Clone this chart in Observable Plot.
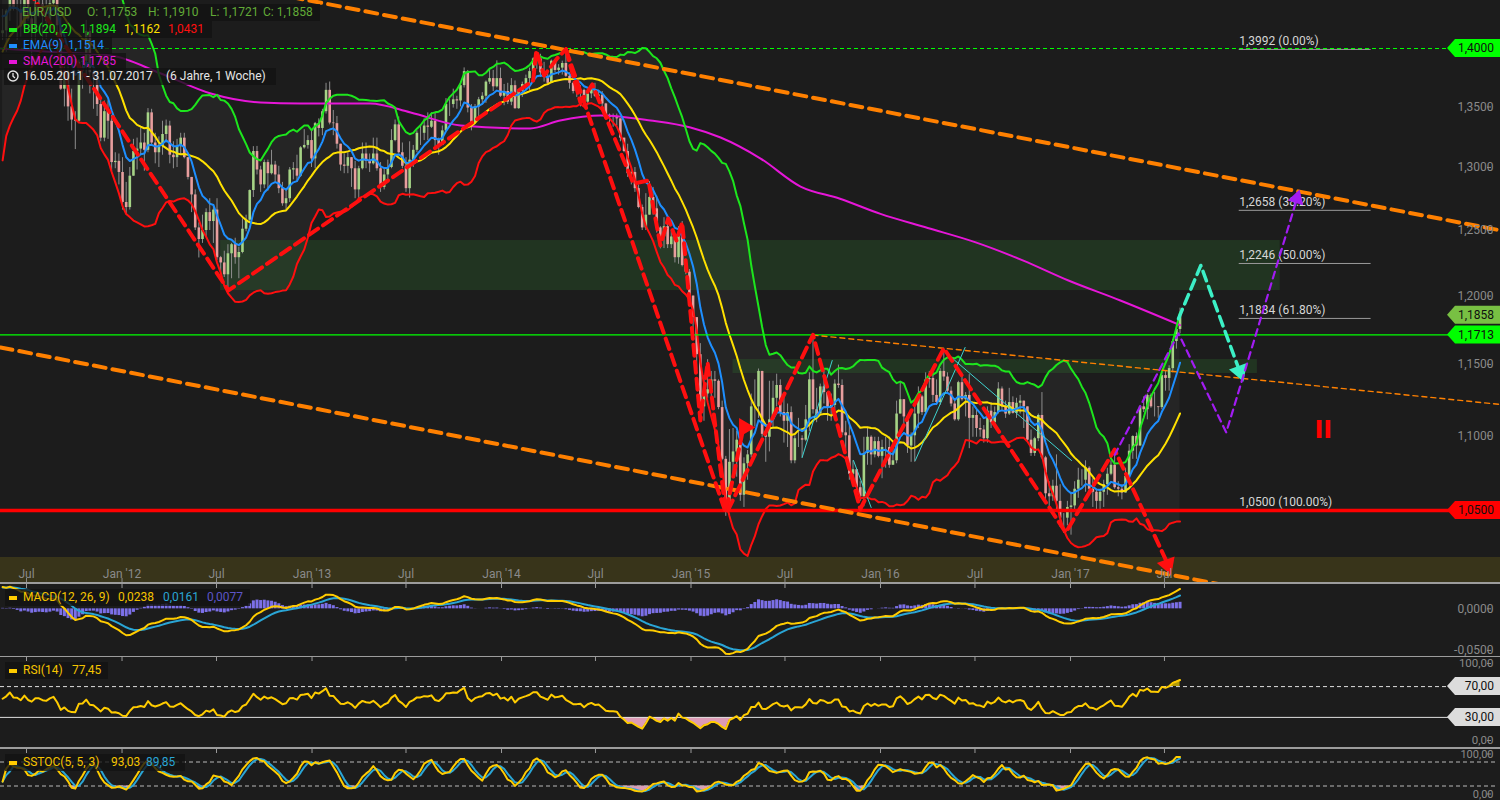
<!DOCTYPE html>
<html>
<head>
<meta charset="utf-8">
<script src="https://cdn.jsdelivr.net/npm/d3@7"></script>
<script src="https://cdn.jsdelivr.net/npm/@observablehq/plot@0.6"></script>
<style>
html,body{margin:0;padding:0;background:#1c1c1c;}
#chart{position:relative;width:1500px;height:800px;overflow:hidden;background:#1c1c1c;font-family:Roboto,"DejaVu Sans",sans-serif;}
.panel{position:absolute;left:0;width:1500px;overflow:hidden;}
.panel.sub{overflow:visible;}
.panel svg{display:block;}
#band{position:absolute;left:0;top:557px;width:1500px;height:25px;background:#38341a;}
.sep{position:absolute;left:0;width:1500px;background:#9c9c9c;z-index:5;}
.box{position:absolute;background:rgba(18,18,18,0.78);z-index:6;}
.lt{position:absolute;font-size:12px;line-height:16px;white-space:pre;z-index:7;}
.mk{position:absolute;width:8px;height:4px;z-index:7;}
</style>
</head>
<body>
<div id="chart">
  <div id="band"></div>
  <div class="panel" id="mainP" style="top:0;height:582px"></div>
  <div class="sep" style="top:582px;height:2px"></div>
  <div class="panel sub" id="macdP" style="top:584px;height:72px"></div>
  <div class="sep" style="top:655.5px;height:1.5px"></div>
  <div class="panel sub" id="rsiP" style="top:657px;height:90px"></div>
  <div class="sep" style="top:747px;height:1.5px"></div>
  <div class="panel sub" id="stocP" style="top:748.5px;height:51.5px"></div>
  <div id="legends"></div>
</div>
<script>
// ---------------- DATA ----------------
// weekly EUR/USD candles, first week starting Monday 16.05.2011, values in pips (x 1/10000)
const firstWeek = "2011-05-16";
// closes before the visible range, only used to seed the indicators (Mar 2010 - 9 May 2011)
const priorCloses = [13620,13760,13530,13390,13480,13360,13500,13380,13300,12760,12360,12570,12270,11960,12110,12390,12350,12560,12640,12940,12880,13030,13280,12750,12710,12750,12890,12720,13050,13490,13790,13970,13970,13950,13940,14030,13690,13680,13240,13410,13220,13230,13100,13380,12910,13380,13610,13690,13580,13500,13700,13750,13980,13910,14020,14090,14230,14480,14430,14570,14820,14530,14130];
const closes = [
14155,14330,14640,14345,14340,14190,14530,14260,14150,14390,14390,14280,14240,14395,14490,14200,13650,13790,13500,13390,13380,13880,13890,14150,13790,13750,13520,13240,13460,13380,13040,13050,12960,
12720,12680,12930,13130,13150,13200,13140,13450,13200,13120,13180,13270,13340,13100,13080,13170,13240,13080,12920,12780,12520,12430,12500,12640,12570,12660,12290,12250,12160,12320,12390,12290,12330,12510,12580,12815,13130,12980,12860,13040,12950,13020,12940,12830,12710,12750,12980,12990,12930,13160,13180,13220,13070,
13360,13320,13460,13640,13365,13360,13190,13020,13010,13080,12990,12820,12990,13110,13050,13030,13110,12990,12840,12940,13000,13220,13350,13120,13010,12830,13060,13140,13280,13280,13340,13330,13380,13220,13180,13300,13520,13520,13560,13550,13680,13800,13490,13370,13500,13560,13590,13710,13740,13670,13740,13590,
13630,13540,13680,13485,13630,13690,13740,13800,13910,13910,13790,13750,13700,13890,13810,13830,13870,13760,13700,13630,13630,13640,13540,13610,13645,13590,13600,13525,13430,13410,13410,13400,13240,13130,12950,12960,12830,12680,12520,12620,12760,12670,12520,12450,12530,12390,12450,12290,12470,12230,12180,12000,
11840,11570,11200,11290,11320,11390,11380,11195,10840,10495,10820,10890,10970,10600,10810,10870,11200,11200,11450,11010,10990,11110,11260,11350,11160,11100,11160,10830,10980,10980,10970,11110,11390,11180,11150,11340,11300,11190,11210,11360,11350,11020,11000,10740,10770,10650,10590,10880,10990,10870,10960,10860,
10920,10920,10800,10830,11150,11250,11130,10930,11000,11150,11270,11160,11390,11400,11280,11230,11450,11410,11310,11220,11110,11370,11250,11280,11120,11140,11050,11040,10980,11170,11090,11160,11325,11200,11150,11230,11155,11225,11240,11200,10970,10880,10980,11140,10850,10610,10590,10660,10560,10450,10450,10520,
10530,10640,10700,10700,10780,10640,10620,10560,10620,10670,10740,10800,10650,10640,10615,10725,10895,10995,10930,11200,11180,11280,11200,11200,11195,11420,11400,11470,11665,11753,11858];
const highs = [
14345,14345,14655,14700,14440,14450,14560,14580,14280,14440,14540,14450,14460,14480,14520,14548,14270,13840,13840,13650,13460,13900,13920,14247,14180,13850,13790,13560,13550,13550,13430,13120,13110,
13080,12880,13000,13230,13240,13320,13280,13486,13480,13280,13250,13380,13390,13380,13210,13230,13280,13280,13080,12900,12820,12560,12620,12670,12750,12692,12750,12300,12340,12390,12400,12440,12370,12590,12620,12820,13170,13172,13010,13060,13060,13140,13050,13010,12880,12830,13000,13040,13100,13170,13310,13260,13300,
13370,13400,13480,13700,13711,13470,13420,13180,13110,13120,13080,13050,13010,13200,13200,13110,13240,13240,13040,13000,13060,13310,13390,13416,13200,13080,13210,13180,13300,13350,13400,13450,13450,13450,13240,13340,13570,13560,13650,13590,13700,13832,13810,13520,13520,13580,13620,13720,13810,13810,13893,13830,
13690,13700,13740,13720,13640,13710,13770,13830,13920,13966,13950,13880,13810,13900,13900,13860,13890,13993,13790,13710,13660,13680,13650,13640,13680,13700,13640,13630,13530,13440,13440,13440,13400,13240,13190,12990,13000,12860,12700,12790,12887,12840,12770,12530,12600,12600,12500,12460,12530,12570,12250,12200,
11980,11840,11650,11420,11534,11450,11450,11390,11240,10860,11043,11050,11030,11000,10850,10900,11290,11390,11467,11450,11010,11380,11380,11430,11390,11280,11220,11200,11000,11120,11000,11210,11440,11714,11330,11360,11460,11300,11290,11390,11495,11390,11100,11070,10830,10760,10690,10990,11050,11000,10990,10990,
10970,10990,10990,10950,11240,11376,11250,11130,11020,11220,11340,11280,11440,11450,11460,11390,11470,11616,11440,11340,11250,11380,11420,11300,11427,11200,11180,11120,11070,11200,11230,11200,11370,11340,11240,11330,11270,11260,11280,11240,11200,11040,10990,11150,11300,10860,10690,10700,10870,10670,10480,10560,
10620,10690,10780,10770,10830,10790,10710,10640,10640,10700,10780,10830,10906,10690,10670,10780,10940,11000,11020,11210,11270,11290,11290,11300,11200,11450,11450,11490,11680,11780,11910];
const lows = [
14070,13968,14240,14330,14070,14100,14140,14240,13837,14050,14270,14050,14080,14200,14340,14150,13640,13500,13380,13300,13146,13360,13650,13730,13610,13480,13420,13210,13210,13230,12950,12990,12860,
12660,12624,12660,12930,12980,13100,12970,13120,13180,13030,13000,13100,13200,13030,12990,13000,13100,13070,12900,12640,12500,12288,12400,12450,12500,12400,12270,12160,12140,12042,12130,12240,12130,12320,12490,12560,12760,12940,12800,12830,12810,12940,12880,12790,12690,12660,12720,12900,12880,12920,13150,13150,13000,
12990,13250,13260,13440,13350,13260,13150,12970,12950,12950,12840,12750,12745,12980,12990,12960,13020,12970,12800,12820,12880,12990,13210,13110,12990,12800,12755,13000,13120,13180,13220,13220,13320,13170,13100,13200,13290,13420,13490,13480,13500,13660,13450,13300,13360,13400,13530,13530,13690,13630,13660,13580,
13510,13520,13510,13480,13480,13580,13640,13640,13740,13820,13750,13710,13680,13710,13790,13770,13770,13750,13650,13610,13580,13500,13520,13510,13570,13580,13570,13490,13420,13360,13330,13340,13210,13120,12920,12860,12800,12670,12500,12500,12620,12620,12480,12358,12360,12360,12360,12250,12240,12220,12160,11980,
11750,11460,11098,11100,11260,11270,11260,11180,10830,10462,10500,10710,10720,10560,10520,10700,10850,11060,11120,10990,10820,10890,11050,11200,11130,10950,10920,10810,10810,10920,10850,10960,11030,11150,11090,11150,11220,11100,11100,11170,11330,11000,10900,10700,10670,10630,10560,10524,10800,10800,10850,10850,
10710,10780,10780,10810,10810,11150,11070,10880,10820,10820,11050,11140,11140,11330,11230,11210,11210,11380,11300,11200,11100,11100,11240,11130,10912,10990,10990,10990,10950,10950,11050,11050,11150,11170,11120,11140,11150,11120,11150,11050,10960,10860,10860,10960,10840,10570,10520,10560,10500,10390,10352,10400,
10340,10500,10580,10660,10620,10620,10520,10490,10500,10520,10600,10730,10640,10590,10570,10640,10820,10840,10840,10930,11160,11110,11190,11130,11120,11180,11310,11310,11440,11610,11721];

// SMA(200)
const sma200Dates = ["2011-05-12","2011-09-04","2011-12-10","2012-03-16","2012-06-20","2012-09-24","2012-12-10","2013-04-23","2013-07-10","2013-10-14","2014-02-25","2014-04-24","2014-07-11","2014-10-15","2014-12-31","2015-02-27","2015-05-15","2015-07-31","2015-10-15","2016-01-01","2016-04-01","2016-07-01","2016-10-01","2016-12-28","2017-04-07","2017-07-31"];
const sma200Values = [1.400,1.3965,1.3939,1.3784,1.3613,1.3537,1.3529,1.3529,1.3453,1.3345,1.3320,1.3386,1.3428,1.3386,1.3328,1.3245,1.3073,1.2847,1.2750,1.2630,1.2520,1.2410,1.2270,1.2117,1.1967,1.1785];

// x axis ticks
const xTickDates = ["2011-07-01","2012-01-01","2012-07-01","2013-01-01","2013-07-01","2014-01-01","2014-07-01","2015-01-01","2015-07-01","2016-01-01","2016-07-01","2017-01-01","2017-07-01"];
const priceTicks = [1.10,1.15,1.20,1.25,1.30,1.35];
const macdTicks = [0,-0.05];
const oscTicks = [0,100];

// horizontal levels
const greenDashedLevel = [1.40];
const greenLevel = [1.1713];
const redLevel = [1.05];
const priceTagValues = [1.40,1.1858,1.1713,1.05];
const priceTagColors = ["#00ff00","#78c043","#00ff00","#ff0000"];
const rsiLevels = [70,30];
const stocLevels = [80,20];

// Fibonacci retracement
const fibLevels = [1.3992,1.2658,1.2246,1.1834,1.05];
const fibLabels = ["1,3992 (0.00%)","1,2658 (38.20%)","1,2246 (50.00%)","1,1834 (61.80%)","1,0500 (100.00%)"];
const fibSpan = ["2017-11-22","2018-08-03"];

// shaded zones [start, end, low, high]
const zoneStarts = ["2012-07-09","2015-03-23"];
const zoneEnds = ["2018-02-09","2017-12-27"];
const zoneLows = [1.2041,1.1435];
const zoneHighs = [1.2422,1.1535];

// drawn trend lines [date, price]
const orangeUpper = [["2012-11-21",1.4457],["2019-04-09",1.2501]];
const orangeLower = [["2011-05-12",1.1622],["2018-03-20",0.9931]];
const orangeThin = [["2015-08-24",1.1712],["2019-04-09",1.1217]];
const redWaveA = [["2011-07-04",1.452],["2012-07-24",1.2042],["2014-03-03",1.3724],["2014-03-09",1.3983],["2014-03-24",1.3766],["2014-04-18",1.3913],["2014-05-05",1.3993]];
const redOuter = [["2014-05-05",1.3993],["2015-03-09",1.0485]];
const redInner = [["2014-05-05",1.3993],["2014-06-02",1.3537],["2014-06-25",1.3690],["2014-09-12",1.2871],["2014-10-11",1.2895],["2014-11-03",1.2384],["2014-11-18",1.2594],["2014-12-04",1.2422],["2014-12-15",1.2563],["2015-01-19",1.1105],["2015-02-02",1.1514],["2015-03-09",1.0485],["2015-04-12",1.1057]];
const redWaveB = [["2015-03-13",1.0500],["2015-08-24",1.1714],["2015-11-23",1.0510],["2016-05-02",1.1616],["2016-12-23",1.0357],["2017-03-27",1.0906],["2017-07-06",1.0165]];
const redArrows = [["2015-04-14",1.1057,90],["2017-07-07",1.0150,160]];
const cyanThin = [
  [["2015-08-03",1.0852],["2015-09-30",1.1528]],
  [["2015-11-10",1.0832],["2015-12-14",1.0520]],
  [["2016-03-08",1.0832],["2016-06-12",1.1622]],
  [["2016-05-01",1.1600],["2017-01-03",1.0832]]];
const cyanProjection = [["2017-07-28",1.1833],["2017-09-09",1.2231],["2017-11-22",1.1460]];
const cyanArrow = [["2017-11-23",1.1450,160]];
const purpleProjection = [["2017-03-27",1.0870],["2017-07-28",1.1724],["2017-10-28",1.1023],["2018-03-11",1.2720]];
const purpleArrow = [["2018-03-13",1.2752,17]];
const waveLabel = [["2018-05-03",1.1036,"II"]];

// legend texts (as shown in the chart)
const headerTexts = ["EUR/USD","O: 1,1753","H: 1,1910","L: 1,1721","C: 1,1858"];
const bbTexts = ["BB(20, 2)","1,1894","1,1162","1,0431"];
const emaTexts = ["EMA(9)","1,1514"];
const smaTexts = ["SMA(200)","1,1785"];
const rangeText = ["16.05.2011 - 31.07.2017","(6 Jahre, 1 Woche)"];
const macdTexts = ["MACD(12, 26, 9)","0,0238","0,0161","0,0077"];
const rsiTexts = ["RSI(14)","77,45"];
const stocTexts = ["SSTOC(5, 5, 3)","93,03","89,85"];

// ---------------- BUILD ----------------
const DAY = 864e5;
const t0 = new Date(firstWeek + "T00:00:00Z").getTime();
const dates = closes.map((_, i) => new Date(t0 + 7 * i * DAY));
const candles = closes.map((c, i) => {
  const o = (i === 0 ? priorCloses[priorCloses.length - 1] : closes[i - 1]) / 1e4;
  const cl = c / 1e4;
  return {date: dates[i], open: o, close: cl,
          high: Math.max(highs[i] / 1e4, o, cl), low: Math.min(lows[i] / 1e4, o, cl)};
});
const all = priorCloses.concat(closes).map(v => v / 1e4);
const P = priorCloses.length;
function ema(arr, n) { const k = 2 / (n + 1); const out = []; let e = arr[0];
  arr.forEach((v, i) => { e = i === 0 ? v : v * k + e * (1 - k); out.push(e); }); return out; }
const e9 = ema(all, 9), e12 = ema(all, 12), e26 = ema(all, 26);
const macdAll = all.map((_, i) => e12[i] - e26[i]);
const sigAll = ema(macdAll, 9);
// RSI (Wilder)
const rsiAll = new Array(all.length).fill(null);
{ let ag = 0, al = 0;
  for (let i = 1; i <= 14; i++) { const d = all[i] - all[i - 1]; if (d > 0) ag += d; else al -= d; }
  ag /= 14; al /= 14; rsiAll[14] = 100 - 100 / (1 + ag / al);
  for (let i = 15; i < all.length; i++) { const d = all[i] - all[i - 1];
    ag = (ag * 13 + Math.max(d, 0)) / 14; al = (al * 13 + Math.max(-d, 0)) / 14;
    rsiAll[i] = al === 0 ? 100 : 100 - 100 / (1 + ag / al); } }
const ind = candles.map((c, i) => {
  const j = i + P; const w = all.slice(j - 19, j + 1); const m = d3.mean(w);
  const sd = Math.sqrt(d3.mean(w, v => (v - m) ** 2));
  return {date: c.date, bbM: m, bbU: m + 2 * sd, bbL: m - 2 * sd, ema9: e9[j],
          macd: macdAll[j], signal: sigAll[j], hist: macdAll[j] - sigAll[j], rsi: rsiAll[j]};
});
// slow stochastic (5,5,3)
const rawK = candles.map((c, i) => { const w = candles.slice(Math.max(0, i - 4), i + 1);
  const hh = d3.max(w, d => d.high), ll = d3.min(w, d => d.low); return 100 * (c.close - ll) / (hh - ll); });
const slowK = rawK.map((_, i) => d3.mean(rawK.slice(Math.max(0, i - 4), i + 1)));
const slowD = slowK.map((_, i) => d3.mean(slowK.slice(Math.max(0, i - 2), i + 1)));
const stoc = candles.map((c, i) => ({date: c.date, k: slowK[i], d: slowD[i]}));

const pts = arr => arr.map(p => ({date: new Date(p[0] + "T00:00:00Z"), v: p[1], r: p[2], t: p[2]}));
const sma200 = sma200Dates.map((d, i) => ({date: new Date(d + "T00:00:00Z"), v: sma200Values[i]}));
const zones = zoneStarts.map((d, i) => ({x1: new Date(d), x2: new Date(zoneEnds[i]), y1: zoneLows[i], y2: zoneHighs[i]}));
const fibRows = fibLevels.map((v, i) => ({v, label: fibLabels[i]}));
const fibA = new Date(fibSpan[0]), fibB = new Date(fibSpan[1]);
const xTicks = xTickDates.map(d => new Date(d));

const fmt = (v, d) => (v < 0 ? "-" : "") + Math.abs(v).toFixed(d).replace(".", ",");
const xDomain = [new Date("2011-05-11T22:00:00Z"), new Date("2019-04-01T14:00:00Z")];
const baseStyle = {background: "transparent", color: "#8a8a8a", fontFamily: "Roboto, sans-serif", fontSize: "12px", overflow: "hidden"};
const subStyle = {background: "transparent", color: "#8a8a8a", fontFamily: "Roboto, sans-serif", fontSize: "12px", overflow: "visible"};
const W = 1500;
const RED = "#ff0f0f";

const main = Plot.plot({
  width: W, height: 582, marginLeft: 0, marginRight: 4, marginTop: 0, marginBottom: 25,
  style: baseStyle, x: {type: "utc", domain: xDomain, label: null},
  y: {type: "log", domain: [1.01972, 1.44248], label: null},
  marks: [
    Plot.areaY(ind, {x: "date", y1: "bbL", y2: "bbU", fill: "#ffffff", fillOpacity: 0.045}),
    Plot.rect(zones, {x1: "x1", x2: "x2", y1: "y1", y2: "y2", fill: "#2f6c2f", fillOpacity: 0.3}),
    Plot.ruleX(candles, {x: "date", y1: "low", y2: "high", stroke: "#8e8e8e", strokeWidth: 1}),
    Plot.ruleX(candles.filter(c => c.close >= c.open), {x: "date", y1: "open", y2: "close", stroke: "#a6d486", strokeWidth: 2.6}),
    Plot.ruleX(candles.filter(c => c.close < c.open), {x: "date", y1: "open", y2: "close", stroke: "#e89e9e", strokeWidth: 2.6}),
    Plot.line(sma200, {x: "date", y: "v", stroke: "#e616d8", strokeWidth: 2, curve: "monotone-x"}),
    Plot.line(ind, {x: "date", y: "bbU", stroke: "#1de61d", strokeWidth: 2}),
    Plot.line(ind, {x: "date", y: "bbM", stroke: "#ffe100", strokeWidth: 2}),
    Plot.line(ind, {x: "date", y: "bbL", stroke: RED, strokeWidth: 2}),
    Plot.line(ind, {x: "date", y: "ema9", stroke: "#1e8fff", strokeWidth: 2}),
    Plot.ruleY(fibRows, {y: "v", x1: () => fibA, x2: () => fibB, stroke: "#9a9a9a", strokeWidth: 1}),
    Plot.text(fibRows, {x: () => fibA, y: "v", text: "label", textAnchor: "start", dy: -8, fill: "#d6d6d6", fontSize: 12}),
    Plot.ruleY(greenDashedLevel, {stroke: "#00ff00", strokeWidth: 1, strokeDasharray: "4,3"}),
    Plot.ruleY(greenLevel, {stroke: "#00ff00", strokeWidth: 1.2}),
    Plot.ruleY(redLevel, {stroke: "#ff0000", strokeWidth: 3.5}),
    Plot.line(pts(orangeUpper), {x: "date", y: "v", stroke: "#ff8000", strokeWidth: 4, strokeDasharray: "12,7"}),
    Plot.line(pts(orangeLower), {x: "date", y: "v", stroke: "#ff8000", strokeWidth: 4, strokeDasharray: "12,7"}),
    Plot.line(pts(orangeThin), {x: "date", y: "v", stroke: "#ff8000", strokeWidth: 1.4, strokeDasharray: "5,4"}),
    ...cyanThin.map(l => Plot.line(pts(l), {x: "date", y: "v", stroke: "#3fd3d0", strokeWidth: 1})),
    Plot.line(pts(redWaveA), {x: "date", y: "v", stroke: RED, strokeWidth: 4, strokeDasharray: "11,6"}),
    Plot.line(pts(redOuter), {x: "date", y: "v", stroke: RED, strokeWidth: 4, strokeDasharray: "11,6"}),
    Plot.line(pts(redInner), {x: "date", y: "v", stroke: RED, strokeWidth: 4, strokeDasharray: "11,6"}),
    Plot.line(pts(redWaveB), {x: "date", y: "v", stroke: RED, strokeWidth: 4, strokeDasharray: "11,6"}),
    Plot.dot(pts(redArrows), {x: "date", y: "v", symbol: "triangle", r: 7, fill: RED, rotate: "r"}),
    Plot.line(pts(cyanProjection), {x: "date", y: "v", stroke: "#3cf0c6", strokeWidth: 3.5, strokeDasharray: "10,6"}),
    Plot.dot(pts(cyanArrow), {x: "date", y: "v", symbol: "triangle", r: 7, fill: "#3cf0c6", rotate: "r"}),
    Plot.line(pts(purpleProjection), {x: "date", y: "v", stroke: "#a21cf2", strokeWidth: 2.2, strokeDasharray: "7,5"}),
    Plot.dot(pts(purpleArrow), {x: "date", y: "v", symbol: "triangle", r: 6, fill: "#a21cf2", rotate: "r"}),
    Plot.text(pts(waveLabel), {x: "date", y: "v", text: "t", fill: "#ff0000", fontSize: 24, fontWeight: "bold", fontFamily: "DejaVu Sans"}),
    Plot.axisX(xTicks, {anchor: "bottom", label: null, tickSize: 0, tickPadding: 12, fontSize: 12,
      tickFormat: d => d.getUTCMonth() === 0 ? "Jan '" + String(d.getUTCFullYear()).slice(2) : "Jul"}),
    Plot.tickX(xTicks, {x: d => d, insetTop: 553, dy: 25, stroke: "#8a8a8a"}),
    Plot.axisY(priceTicks, {anchor: "right", label: null, tickSize: 4, tickPadding: 3, textAnchor: "end", dx: -10, fontSize: 12, tickFormat: d => fmt(d, 4)})
  ]
});
document.getElementById("mainP").appendChild(main);

function sub(el, h, ydom, marks, ticks, dec, fs) {
  const p = Plot.plot({
    width: W, height: h, marginLeft: 0, marginRight: 4, marginTop: 0, marginBottom: 0,
    style: subStyle, x: {type: "utc", domain: xDomain, axis: null, label: null}, y: {domain: ydom, label: null},
    marks: [...marks,
      Plot.tickX(xTicks, {x: d => d, insetBottom: h - 4, stroke: "#9a9a9a"}),
      Plot.axisY(ticks, {anchor: "right", label: null, tickSize: 4, tickPadding: 3, textAnchor: "end", dx: -10, fontSize: fs, tickFormat: d => fmt(d, dec)})]
  });
  document.getElementById(el).appendChild(p);
  return p;
}
const macdP = sub("macdP", 72, [-0.05732, 0.02927], [
  Plot.ruleX(ind, {x: "date", y1: 0, y2: "hist", stroke: "#7c70e8", strokeWidth: 3}),
  Plot.line(ind, {x: "date", y: "signal", stroke: "#2aa5d5", strokeWidth: 2}),
  Plot.line(ind, {x: "date", y: "macd", stroke: "#ffcc00", strokeWidth: 2})
], macdTicks, 4, 12);
const rsiP = sub("rsiP", 90, [-9.09, 107.79], [
  Plot.areaY(ind, {x: "date", y1: 30, y2: d => Math.min(d.rsi, 30), fill: "#f2aac8", fillOpacity: 0.9}),
  Plot.areaY(ind, {x: "date", y1: 70, y2: d => Math.max(d.rsi, 70), fill: "#f0d000", fillOpacity: 0.7}),
  Plot.ruleY([rsiLevels[0]], {stroke: "#dedede", strokeDasharray: "4,3"}),
  Plot.ruleY([rsiLevels[1]], {stroke: "#dedede"}),
  Plot.line(ind, {x: "date", y: "rsi", stroke: "#ffcc00", strokeWidth: 2})
], oscTicks, 2, 11.5);
const stocP = sub("stocP", 51.5, [-17.5, 111.25], [
  Plot.areaY(stoc, {x: "date", y1: 20, y2: d => Math.min(d.k, 20), fill: "#f2aac8", fillOpacity: 0.9}),
  Plot.ruleY(stocLevels, {stroke: "#b8b8b8", strokeDasharray: "4,3"}),
  Plot.line(stoc, {x: "date", y: "d", stroke: "#2aa5d5", strokeWidth: 2}),
  Plot.line(stoc, {x: "date", y: "k", stroke: "#ffcc00", strokeWidth: 2})
], oscTicks, 2, 11);

// value tags on the right, positioned through the plots' own scales
function scaleFn(plot, name) {
  const s = plot.scale(name);
  if (s && typeof s.apply === "function") return v => s.apply(v);
  return (s.type === "log" ? d3.scaleLog() : d3.scaleLinear()).domain(s.domain).range(s.range);
}
function tags(plot, values, colors, dec) {
  const y = scaleFn(plot, "y"); const g = d3.select(plot).append("g");
  values.forEach((v, i) => { const yy = y(v);
    g.append("path").attr("d", `M1447,${yy}L1455,${yy - 9}L1500,${yy - 9}L1500,${yy + 9}L1455,${yy + 9}Z`).attr("fill", colors[i]);
    g.append("text").attr("x", 1494).attr("y", yy).attr("dy", "0.36em").attr("text-anchor", "end")
      .attr("font-size", 12).attr("font-family", "Roboto, sans-serif").attr("fill", "#101010").text(fmt(v, dec)); });
}
tags(main, priceTagValues, priceTagColors, 4);
tags(rsiP, rsiLevels, ["#dcdcdc", "#dcdcdc"], 2);

// legends
const L = document.getElementById("legends");
function el(cls, css, txt) { const d = document.createElement("div"); d.className = cls; d.style.cssText = css; if (txt) d.textContent = txt; L.appendChild(d); return d; }
function row(top, width, marker, pieces) {
  el("box", `left:0;top:${top}px;width:${width}px;height:17px`);
  if (marker) el("mk", `left:9px;top:${top + 7}px;background:${marker}`);
  pieces.forEach(([x, t, c]) => el("lt", `left:${x}px;top:${top}px;color:${c}`, t));
}
const G = "#62ab37";
row(4, 320, null, [[22, headerTexts[0], G], [87, headerTexts[1], G], [148, headerTexts[2], G], [210, headerTexts[3], G], [263, headerTexts[4], G]]);
row(21, 212, "#1de61d", [[23, bbTexts[0], "#1de61d"], [80, bbTexts[1], "#1de61d"], [124, bbTexts[2], "#ffe100"], [168, bbTexts[3], RED]]);
row(37, 112, "#1e8fff", [[23, emaTexts[0], "#1e8fff"], [68, emaTexts[1], "#1e8fff"]]);
row(53, 126, "#e616d8", [[23, smaTexts[0], "#e616d8"], [80, smaTexts[1], "#e616d8"]]);
el("box", "left:4px;top:68px;width:272px;height:17px");
el("lt", "left:23px;top:68px;color:#e6e6e6", rangeText[0]);
el("lt", "left:166px;top:68px;color:#e6e6e6", rangeText[1]);
const clk = el("lt", "left:7px;top:70px;width:12px;height:12px");
clk.innerHTML = '<svg width="12" height="12"><circle cx="6" cy="6" r="5" fill="none" stroke="#e6e6e6" stroke-width="1.4"/><path d="M6 3V6.3L8 8" stroke="#e6e6e6" stroke-width="1.3" fill="none"/></svg>';
function subRow(top, width, pieces) {
  el("box", `left:5px;top:${top}px;width:${width}px;height:17px`);
  el("mk", `left:9px;top:${top + 7}px;background:#ffcc00`);
  pieces.forEach(([x, t, c]) => el("lt", `left:${x}px;top:${top}px;color:${c}`, t));
}
subRow(589, 245, [[23, macdTexts[0], "#f5c400"], [118, macdTexts[1], "#f5c400"], [163, macdTexts[2], "#2aa5d5"], [207, macdTexts[3], "#5d55c8"]]);
subRow(662, 103, [[23, rsiTexts[0], "#f5c400"], [72, rsiTexts[1], "#f5c400"]]);
subRow(754, 180, [[23, stocTexts[0], "#f5c400"], [111, stocTexts[1], "#f5c400"], [146, stocTexts[2], "#2aa5d5"]]);
</script>
</body>
</html>
